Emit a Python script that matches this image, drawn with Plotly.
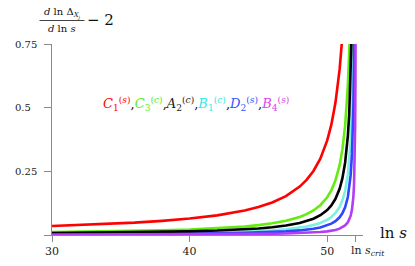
import plotly.graph_objects as go

# ln s sample points
ln_s = [30, 32, 34, 36, 38, 40, 42, 44, 45, 46, 47, 48, 48.5, 49, 49.5, 50, 50.3, 50.6,
        50.9, 51.1, 51.3, 51.5, 51.6, 51.7, 51.8, 51.85, 51.9, 51.95, 52.0, 52.03, 52.05, 52.07]
ln_s_crit = 52.07

C1_s = [0.0353, 0.0388, 0.0431, 0.0484, 0.0553, 0.0645, 0.0772, 0.0963, 0.1099, 0.1279, 0.1529,
        0.1902, 0.2167, 0.2516, 0.3000, 0.3714, 0.4333, 0.5200, 0.6500, 0.7800]
C3_c = [0.0111, 0.0123, 0.0139, 0.0158, 0.0182, 0.0216, 0.0263, 0.0336, 0.0388, 0.0458, 0.0558,
        0.0710, 0.0819, 0.0965, 0.1171, 0.1481, 0.1755, 0.2145, 0.2741, 0.3350, 0.4282, 0.5876,
        0.7181, 0.9178]
A2_c = [0.0074, 0.0082, 0.0092, 0.0104, 0.0121, 0.0143, 0.0174, 0.0222, 0.0257, 0.0304, 0.0370,
        0.0470, 0.0543, 0.0640, 0.0776, 0.0981, 0.1163, 0.1421, 0.1817, 0.2220, 0.2838, 0.3894,
        0.4759, 0.6082, 0.8346]
B1_c = [0.0045, 0.0050, 0.0056, 0.0064, 0.0074, 0.0087, 0.0106, 0.0135, 0.0156, 0.0185, 0.0225,
        0.0286, 0.0330, 0.0389, 0.0472, 0.0597, 0.0707, 0.0864, 0.1105, 0.1350, 0.1726, 0.2368,
        0.2894, 0.3699, 0.5075, 0.6200, 0.7927]
D2_s = [0.0028, 0.0031, 0.0035, 0.0040, 0.0046, 0.0055, 0.0067, 0.0085, 0.0098, 0.0116, 0.0142,
        0.0180, 0.0208, 0.0245, 0.0297, 0.0376, 0.0445, 0.0544, 0.0696, 0.0850, 0.1087, 0.1491,
        0.1822, 0.2329, 0.3195, 0.3904, 0.4991, 0.6849, 1.0705]
B4_s = [0.0014, 0.0015, 0.0017, 0.0019, 0.0021, 0.0025, 0.0030, 0.0037, 0.0042, 0.0049, 0.0059,
        0.0073, 0.0083, 0.0097, 0.0115, 0.0143, 0.0167, 0.0200, 0.0250, 0.0300, 0.0375, 0.0500,
        0.0600, 0.0750, 0.1000, 0.1200, 0.1500, 0.2000, 0.3000, 0.4286, 0.6000, 1.0000]

x_tick_vals = [30, 40, 50]
x_tick_text = ["30", "40", "50"]
y_tick_vals = [0, 0.25, 0.5, 0.75]
y_label_vals = [0.25, 0.5, 0.75]
y_label_text = ["0.25", "0.5", "0.75"]

series = [
    ("C1(s)", C1_s, "#ff0000"),
    ("C3(c)", C3_c, "#62ec10"),
    ("B1(c)", B1_c, "#7ff0e0"),
    ("D2(s)", D2_s, "#2f45ff"),
    ("A2(c)", A2_c, "#000000"),
    ("B4(s)", B4_s, "#b43cf5"),
]

F = "DejaVu Serif"
fig = go.Figure()
for name, ys, col in series:
    fig.add_trace(go.Scatter(x=ln_s[:len(ys)], y=ys, mode="lines", name=name,
                             line=dict(color=col, width=2.6), showlegend=False))

axis_col = "#8a8a8a"
fig.update_layout(
    width=407, height=258,
    margin=dict(l=44, r=52, t=36, b=31, autoexpand=False),
    paper_bgcolor="white", plot_bgcolor="white",
    font=dict(family=F, size=11, color="#222"),
    xaxis=dict(range=[30, 52.6], showgrid=False, zeroline=False, showline=True, automargin=False,
               linecolor=axis_col, linewidth=1, ticks="outside", ticklen=6,
               tickcolor=axis_col, tickvals=x_tick_vals + [ln_s_crit],
               ticktext=x_tick_text + [""], tickfont=dict(family=F, size=11)),
    yaxis=dict(range=[0, 0.75], showgrid=False, zeroline=False, showline=True, automargin=False,
               linecolor=axis_col, linewidth=1, ticks="outside", ticklen=7,
               tickcolor=axis_col, tickvals=y_tick_vals, showticklabels=False),
)

def px(xp):
    return (xp - 52) / 311.0

def py(yp):
    return (235 - yp) / 191.0

legend_html = (
    "<span style='color:#ff0000'><i>C</i><sub>1</sub><sup>(<i>s</i>)</sup></span>,"
    "<span style='color:#55ee22'><i>C</i><sub>3</sub><sup>(<i>c</i>)</sup></span>,"
    "<span style='color:#222222'><i>A</i><sub>2</sub><sup>(<i>c</i>)</sup></span>,"
    "<span style='color:#33e8e8'><i>B</i><sub>1</sub><sup>(<i>c</i>)</sup></span>,"
    "<span style='color:#3355ff'><i>D</i><sub>2</sub><sup>(<i>s</i>)</sup></span>,"
    "<span style='color:#dd44ee'><i>B</i><sub>4</sub><sup>(<i>s</i>)</sup></span>"
)

ann = [
    dict(text=legend_html, x=px(196), y=py(104), font=dict(family=F, size=13)),
    dict(text="<i>d</i> ln Δ<sub><i>X<sub>j</sub></i></sub>", x=px(62), y=py(14),
         font=dict(family=F, size=10, color="#111")),
    dict(text="<i>d</i> ln <i>s</i>", x=px(62), y=py(21), yanchor="top",
         font=dict(family=F, size=10, color="#111")),
    dict(text="− 2", x=px(100), y=py(20), font=dict(family=F, size=15, color="#111")),
    dict(text="ln <i>s</i>", x=px(393), y=py(233), font=dict(family=F, size=15, color="#111")),
    dict(text="ln <i>s</i><sub><i>crit</i></sub>", x=px(349), y=py(251), xanchor="left",
         font=dict(family=F, size=11, color="#222")),
]
for a in ann:
    a.setdefault("xanchor", "center")
    a.setdefault("yanchor", "middle")
    fig.add_annotation(xref="paper", yref="paper", showarrow=False, **a)

for v, t in zip(y_label_vals, y_label_text):
    fig.add_annotation(xref="paper", yref="y", x=px(13), y=v, text=t, showarrow=False,
                       xanchor="left", yanchor="middle", font=dict(family=F, size=10, color="#222"))

fig.add_shape(type="line", xref="paper", yref="paper", x0=px(39.5), x1=px(84.5),
              y0=py(20.5), y1=py(20.5), line=dict(color="#111", width=0.8))

fig.write_html("out.html")
